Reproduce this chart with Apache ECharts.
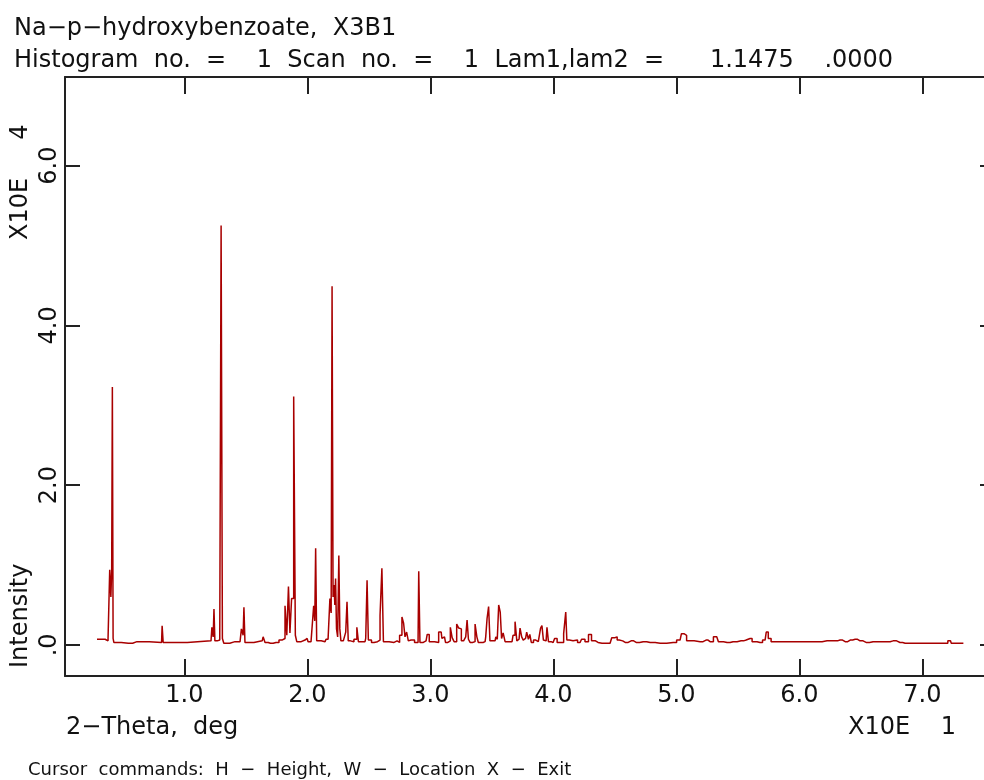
<!DOCTYPE html>
<html>
<head>
<meta charset="utf-8">
<script src="https://cdn.jsdelivr.net/npm/echarts@6/dist/echarts.min.js"></script>
<style>
html,body{margin:0;padding:0;background:#fff;}
#chart{width:984px;height:780px;}
</style>
</head>
<body>
<div id="chart"></div>
<script>
// 2-Theta (units of 10 deg, as on the axis: X10E 1)
const twoTheta = [
0.290,0.356,0.372,0.388,0.399,0.407,0.412,0.418,0.424,0.430,0.545,0.615,0.815,0.824,0.832,
1.217,1.231,1.238,1.244,1.253,1.282,1.294,1.304,1.315,1.327,1.412,1.453,1.475,1.481,1.488,1.498,
1.633,1.648,1.664,1.700,1.745,1.794,1.810,1.827,1.839,1.854,1.863,1.881,1.897,1.908,1.920,
1.981,1.998,2.014,2.046,2.057,2.064,2.071,2.081,2.144,2.160,2.177,2.190,2.197,2.205,2.213,2.221,2.226,2.233,2.241,2.252,2.260,2.268,2.278,
2.307,2.317,2.328,2.337,2.363,2.395,2.410,2.420,2.469,2.480,2.491,2.501,2.542,2.558,2.583,2.599,2.613,2.624,
2.705,2.721,2.738,2.762,2.776,2.789,2.799,2.815,2.827,2.843,2.900,2.911,2.920,2.965,2.984,2.998,
3.022,3.047,3.088,3.100,3.115,3.131,3.154,3.171,3.183,3.203,3.225,3.236,3.246,3.258,3.282,3.293,3.304,3.315,3.331,
3.355,3.372,3.384,3.396,3.412,3.445,3.455,3.467,3.480,3.489,3.526,3.538,3.550,3.561,3.575,3.583,3.600,3.615,
3.664,3.680,3.697,3.709,3.721,3.737,3.748,3.762,3.774,3.792,3.802,3.815,3.826,3.851,3.863,3.892,3.900,3.914,3.924,3.941,3.955,3.965,
3.998,4.022,4.039,4.071,4.096,4.105,4.114,4.144,4.176,4.217,4.241,4.273,4.298,4.322,4.363,4.395,4.461,4.488,4.510,4.527,4.543,4.584,
4.632,4.673,4.730,4.787,4.868,4.974,5.030,5.052,5.071,5.095,5.193,5.241,5.274,5.328,5.355,5.412,5.461,5.526,5.567,5.599,5.632,5.680,
5.721,5.740,5.754,5.786,5.867,5.981,6.063,6.144,6.225,6.290,6.330,6.372,6.413,6.453,6.493,6.542,6.599,6.657,6.713,6.762,6.818,6.860,
6.941,7.063,7.185,7.228,7.241,7.333
];
// Intensity (units of 10^4 counts, as on the axis: X10E 4)
const intensity = [
0.07,0.07,0.05,0.08,0.94,0.60,0.94,3.23,0.08,0.03,0.02,0.04,0.03,0.24,0.03,
0.05,0.22,0.10,0.45,0.05,0.06,0.10,5.25,0.08,0.02,0.04,0.04,0.20,0.12,0.47,0.03,
0.05,0.10,0.03,0.02,0.03,0.06,0.08,0.49,0.12,0.73,0.15,0.58,3.11,0.12,0.04,
0.06,0.08,0.04,0.05,0.49,0.30,1.21,0.05,0.04,0.07,0.05,0.58,0.40,4.49,0.60,0.75,0.50,0.83,0.20,0.10,1.12,0.20,0.05,
0.06,0.16,0.54,0.05,0.04,0.07,0.22,0.04,0.04,0.08,0.81,0.06,0.03,0.04,0.06,0.37,0.96,0.04,
0.03,0.05,0.03,0.12,0.35,0.27,0.10,0.16,0.05,0.06,0.03,0.92,0.03,0.05,0.13,0.04,
0.04,0.03,0.16,0.08,0.10,0.03,0.05,0.22,0.09,0.04,0.26,0.21,0.20,0.05,0.04,0.10,0.31,0.07,0.03,
0.04,0.26,0.10,0.03,0.03,0.04,0.10,0.33,0.48,0.05,0.05,0.10,0.07,0.50,0.41,0.08,0.15,0.04,
0.04,0.12,0.29,0.05,0.07,0.21,0.10,0.06,0.08,0.16,0.07,0.13,0.03,0.06,0.04,0.05,0.21,0.24,0.06,0.05,0.22,0.04,
0.03,0.08,0.03,0.03,0.14,0.41,0.06,0.05,0.06,0.03,0.07,0.04,0.13,0.05,0.03,0.02,0.02,0.09,0.10,0.06,0.05,0.03,
0.05,0.03,0.04,0.03,0.02,0.03,0.06,0.14,0.12,0.05,0.04,0.06,0.04,0.10,0.04,0.03,0.04,0.05,0.06,0.08,0.04,0.03,
0.06,0.16,0.08,0.04,0.04,0.04,0.04,0.04,0.05,0.05,0.06,0.04,0.06,0.07,0.05,0.03,0.04,0.04,0.04,0.05,0.03,0.02,
0.02,0.02,0.02,0.05,0.02,0.02
];
const xTicks = [1, 2, 3, 4, 5, 6, 7];
const yTicks = [0, 2, 4, 6];
const titleLines = [
  "Na−p−hydroxybenzoate,  X3B1",
  "Histogram  no.  =    1  Scan  no.  =    1  Lam1,lam2  =      1.1475    .0000"
];

const FONT = "DejaVu Sans";
const profile = twoTheta.map((x, i) => [x, intensity[i]]);
const chart = echarts.init(document.getElementById('chart'), null, {renderer: 'canvas'});

const axisLine = {show: true, onZero: false, lineStyle: {color: '#222', width: 2}};
const tickStyle = {color: '#222', width: 2};
const xMin = 0.03, xMax = 7.59, yMin = -0.39, yMax = 7.11;

chart.setOption({
  animation: false,
  backgroundColor: '#fff',
  grid: {left: 65, top: 77, width: 930, height: 599, containLabel: false, outerBoundsMode: 'none'},
  xAxis: [
    {type: 'value', position: 'bottom', min: xMin, max: xMax,
     axisLine: axisLine, splitLine: {show: false},
     axisTick: {show: true, inside: true, length: 17, customValues: xTicks, lineStyle: tickStyle},
     axisLabel: {show: true, customValues: xTicks, margin: 8, color: '#111', fontFamily: FONT, fontSize: 24,
                 formatter: v => v.toFixed(1)}},
    {type: 'value', position: 'top', min: xMin, max: xMax,
     axisLine: axisLine, splitLine: {show: false},
     axisTick: {show: true, inside: true, length: 17, customValues: xTicks, lineStyle: tickStyle},
     axisLabel: {show: false}}
  ],
  yAxis: [
    {type: 'value', position: 'left', min: yMin, max: yMax,
     axisLine: axisLine, splitLine: {show: false},
     axisTick: {show: true, inside: true, length: 15, customValues: yTicks, lineStyle: tickStyle},
     axisLabel: {show: true, customValues: yTicks, rotate: 90, margin: 3, color: '#111', fontFamily: FONT, fontSize: 24,
                 formatter: v => (v === 0 ? '.0' : v.toFixed(1))}},
    {type: 'value', position: 'right', min: yMin, max: yMax,
     axisLine: axisLine, splitLine: {show: false},
     axisTick: {show: true, inside: true, length: 15, customValues: yTicks, lineStyle: tickStyle},
     axisLabel: {show: false}}
  ],
  series: [{
    type: 'line', xAxisIndex: 0, yAxisIndex: 0, data: profile,
    showSymbol: false, symbol: 'none', smooth: false, step: 'middle',
    lineStyle: {color: '#a80000', width: 1.5}, clip: true
  }],
  graphic: [
    {type: 'text', left: 14, top: 17, style: {text: titleLines[0], font: '24px "' + FONT + '"', fill: '#111'}},
    {type: 'text', left: 14, top: 49, style: {text: titleLines[1], font: '24px "' + FONT + '"', fill: '#111'}},
    {type: 'text', x: 9, y: 668, rotation: Math.PI / 2, style: {text: 'Intensity', font: '24px "' + FONT + '"', fill: '#111', textAlign: 'left', textVerticalAlign: 'top'}},
    {type: 'text', x: 9, y: 240, rotation: Math.PI / 2, style: {text: 'X10E     4', font: '24px "' + FONT + '"', fill: '#111', textAlign: 'left', textVerticalAlign: 'top'}},
    {type: 'text', left: 66, top: 716, style: {text: '2−Theta,  deg', font: '24px "' + FONT + '"', fill: '#111'}},
    {type: 'text', left: 848, top: 716, style: {text: 'X10E    1', font: '24px "' + FONT + '"', fill: '#111'}},
    {type: 'text', left: 28, top: 761, style: {text: 'Cursor  commands:  H  −  Height,  W  −  Location  X  −  Exit', font: '18px "' + FONT + '"', fill: '#111'}}
  ]
});
</script>
</body>
</html>
